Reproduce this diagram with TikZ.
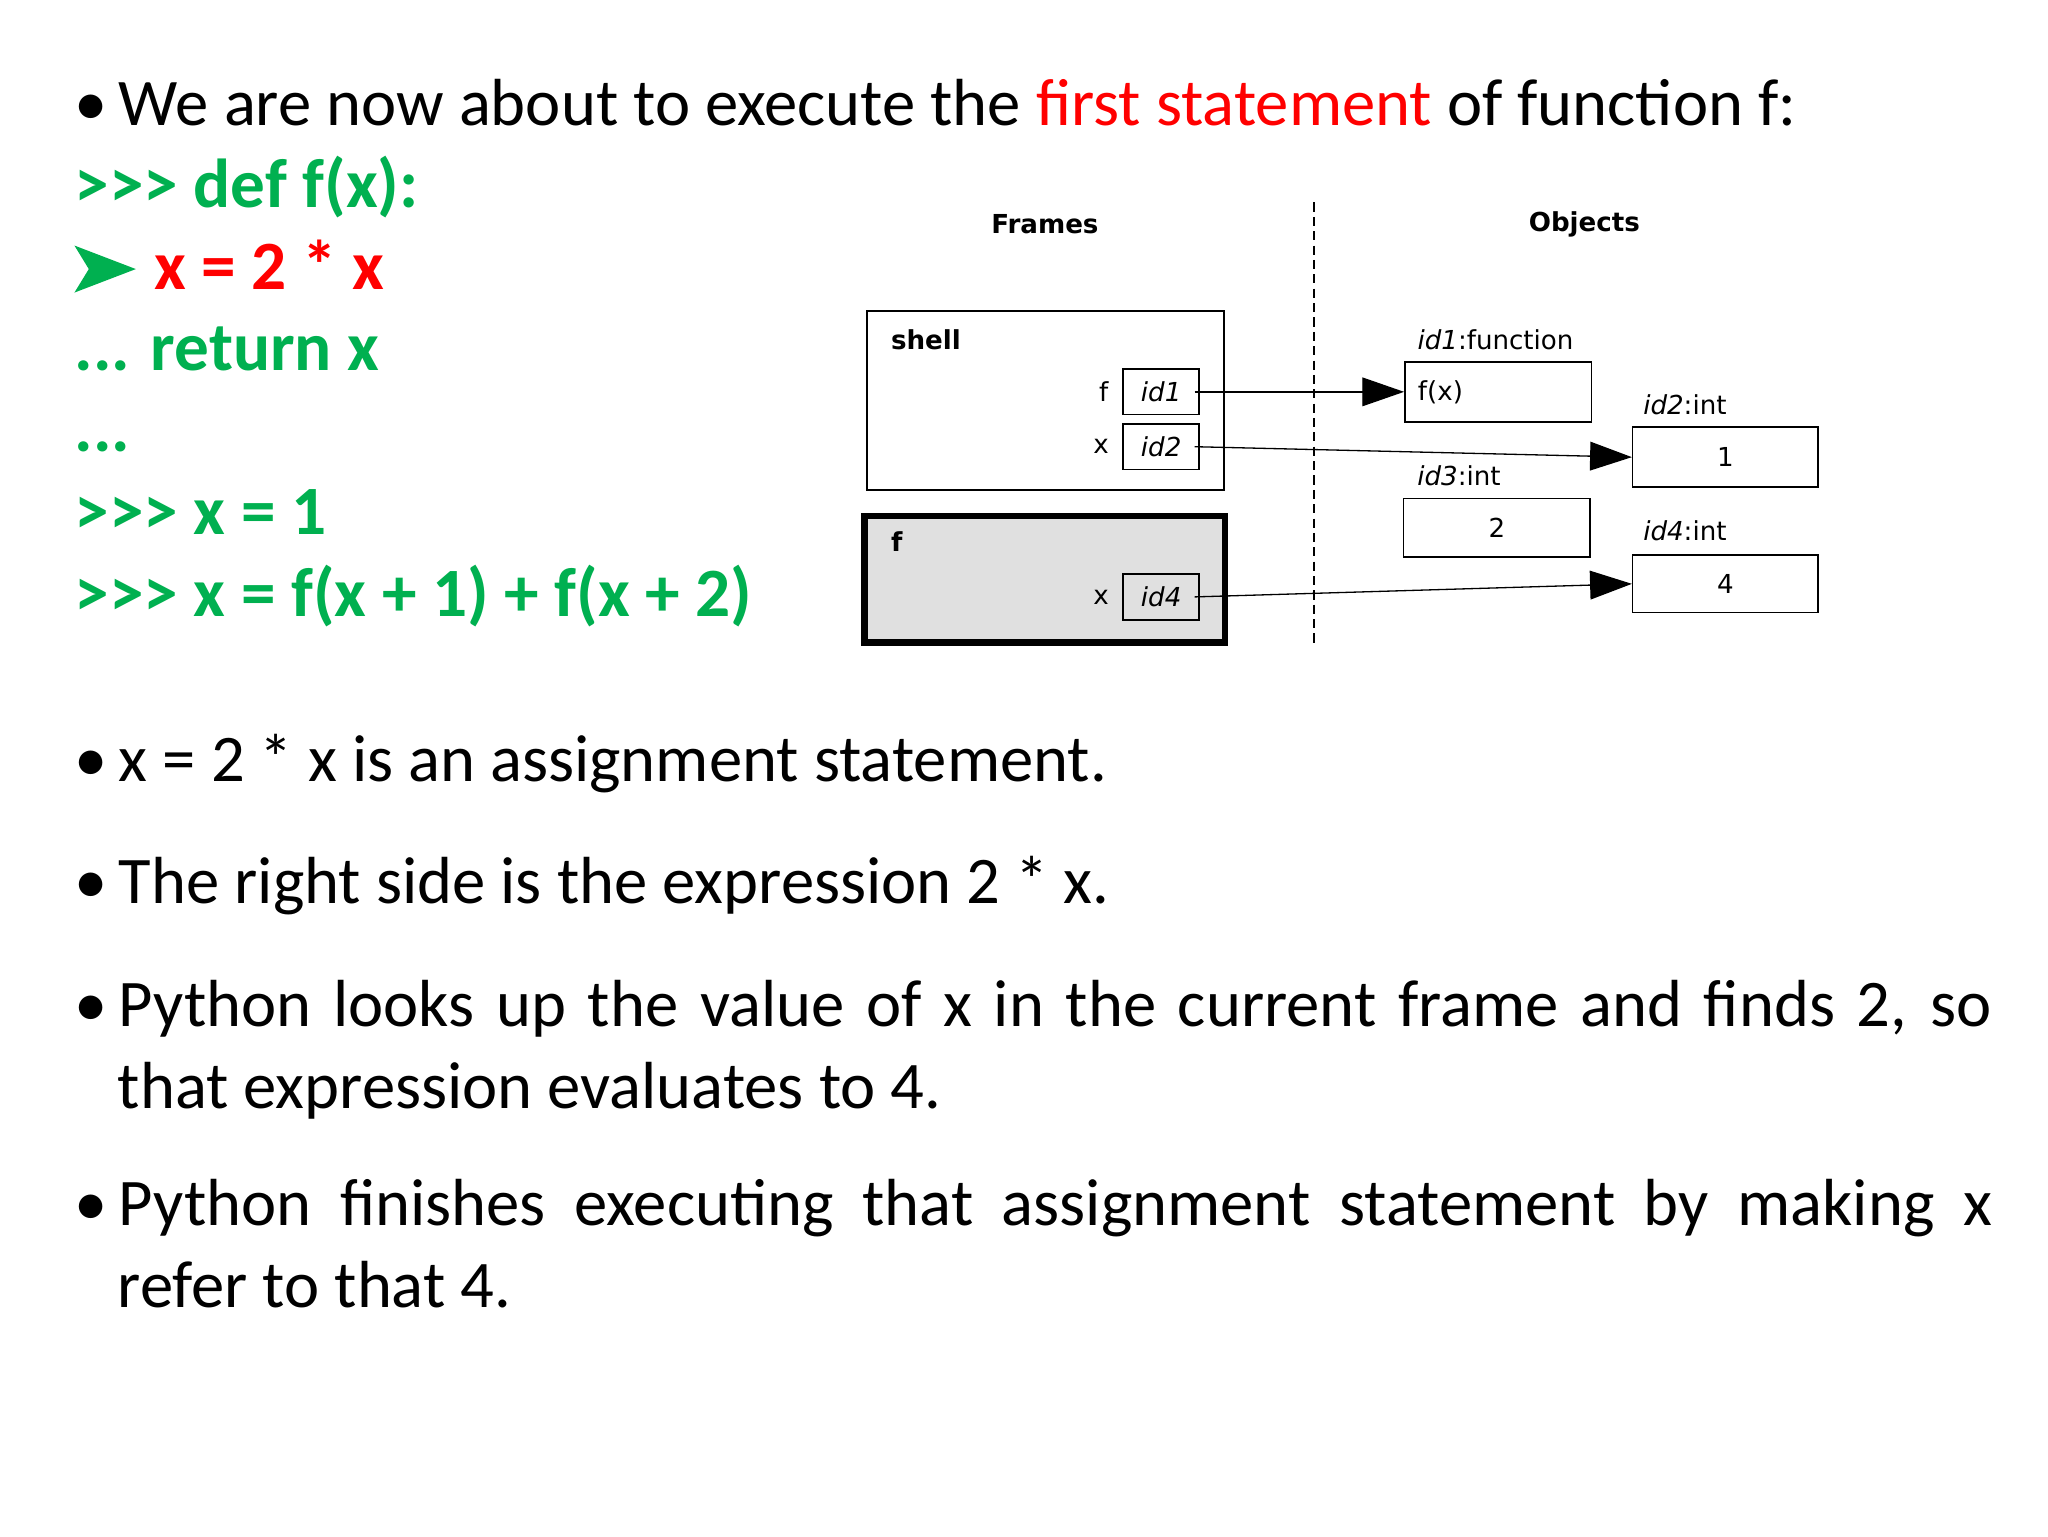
\documentclass[tikz,border=0pt]{standalone}
\usepackage{fontspec}
\setmainfont{Carlito}
\newfontfamily\djvfont{DejaVu Sans}
\usetikzlibrary{arrows.meta}
\definecolor{pg}{RGB}{0,176,80}
\definecolor{pr}{RGB}{255,0,0}
\newcommand{\gtr}{\symbol{62}\symbol{62}\symbol{62}}
\begin{document}
\begin{tikzpicture}[x=1pt,y=-1pt,
  txt/.style={anchor=base west,inner sep=0,font=\fontsize{51}{60}\selectfont},
  code/.style={anchor=base west,inner sep=0,font=\fontsize{53}{62}\selectfont\bfseries,text=pg},
  dl/.style={inner sep=0,font=\djvfont\fontsize{20}{24}\selectfont},
  bx/.style={draw,line width=1.2pt,inner sep=0},
  ar/.style={line width=1pt,-{Triangle[length=32pt,width=22pt]}}]
\useasboundingbox[fill=white] (0,0) rectangle (1568,1176);
\node[txt] (t0) at (57,96) {•\,We are now about to execute the \textcolor{pr}{first statement} of function f:};
\node[code] (c1) at (57,159) {\gtr{} def f(x):};
\fill[pg] (57,188) -- (104,206) -- (57,224) -- (68,206) -- cycle;
\node[code,text=pr] (c2) at (118,222) {x = 2 * x};
\node[code] (c3) at (57,284) {... return x};
\node[code] (c4) at (57,346) {...};
\node[code] (c5) at (57,409) {\gtr{} x = 1};
\node[code] (c6) at (57,472) {\gtr{} x = f(x + 1) + f(x + 2)};
% diagram
\node[dl,font=\djvfont\bfseries\fontsize{20}{24}\selectfont] (fr) at (800,172) {Frames};
\node[dl,font=\djvfont\bfseries\fontsize{20}{24}\selectfont] (ob) at (1213,172) {Objects};
\draw[dash pattern=on 7pt off 4pt,line width=1.4pt] (1006,155) -- (1006,492);
\draw[line width=1.5pt] (664,238) rectangle (937,375);
\draw[line width=5pt,fill=black!12] (662,395) rectangle (938,492);
\node[dl,anchor=west,font=\djvfont\bfseries\fontsize{20}{24}\selectfont] (sh) at (682,260) {shell};
\node[dl,anchor=west,font=\djvfont\bfseries\fontsize{20}{24}\selectfont] (fl) at (682,415) {f};
\node[bx,minimum width=58pt,minimum height=35pt,font=\djvfont\itshape\fontsize{20}{24}\selectfont] (i1) at (889,300) {id1};
\node[bx,minimum width=58pt,minimum height=35pt,font=\djvfont\itshape\fontsize{20}{24}\selectfont] (i2) at (889,342) {id2};
\node[bx,minimum width=58pt,minimum height=35pt,font=\djvfont\itshape\fontsize{20}{24}\selectfont] (i4) at (889,457) {id4};
\node[dl] (lf) at (845,300) {f};
\node[dl] (lx) at (843,342) {x};
\node[dl] (lx2) at (843,457) {x};
\node[bx,minimum width=143pt,minimum height=46pt,font=\djvfont\fontsize{20}{24}\selectfont,anchor=west,text width=123pt,align=left,inner xsep=10pt] (fx) at (1075,300) {f(x)};
\node[bx,minimum width=142pt,minimum height=46pt,font=\djvfont\fontsize{20}{24}\selectfont] (o1) at (1321,350) {1};
\node[bx,minimum width=143pt,minimum height=45pt,font=\djvfont\fontsize{20}{24}\selectfont] (o2) at (1146,404) {2};
\node[bx,minimum width=142pt,minimum height=44pt,font=\djvfont\fontsize{20}{24}\selectfont] (o4) at (1321,447) {4};
\node[dl] (l1) at (1145,260) {\textit{id1}:function};
\node[dl] (l2) at (1290,310) {\textit{id2}:int};
\node[dl] (l3) at (1117,364) {\textit{id3}:int};
\node[dl] (l4) at (1290,406) {\textit{id4}:int};
\draw[ar] ([xshift=-4pt]i1.east) -- (fx.west);
\draw[ar] ([xshift=-4pt]i2.east) -- (o1.west);
\draw[ar] ([xshift=-4pt]i4.east) -- (o4.west);
% bullets
\node[txt] (b1) at (57,598) {•\,x = 2 * x is an assignment statement.};
\node[txt] (b2) at (57,692) {•\,The right side is the expression 2 * x.};
\node[txt] (b3) at (57,786) {\makebox[1468pt][s]{•\,Python looks up the value of x in the current frame and finds 2, so}};
\node[txt] (b3b) at (90,849) {that expression evaluates to 4.};
\node[txt] (b4) at (57,938) {\makebox[1468pt][s]{•\,Python finishes executing that assignment statement by making x}};
\node[txt] (b4b) at (90,1001) {refer to that 4.};
\end{tikzpicture}
\end{document}
